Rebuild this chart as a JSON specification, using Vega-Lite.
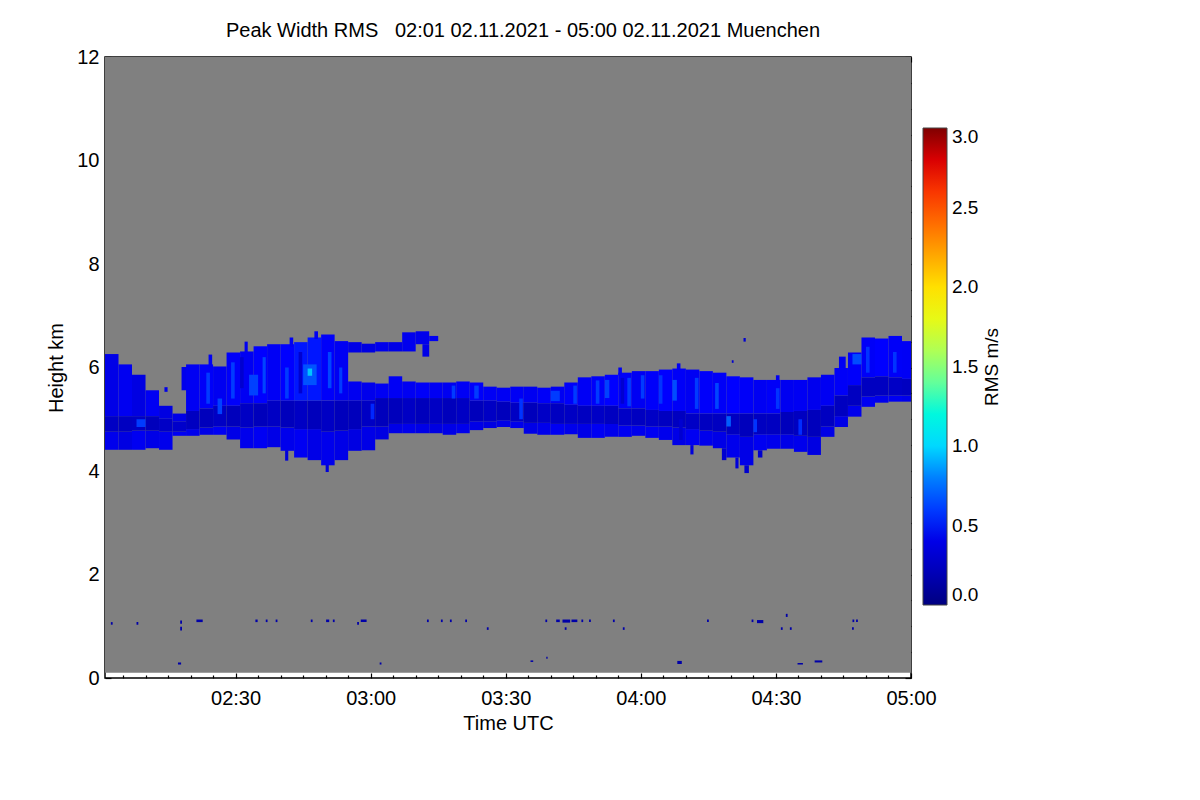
{
  "$schema": "https://vega.github.io/schema/vega-lite/v6.json",
  "width": 806,
  "height": 621,
  "autosize": "none",
  "padding": {"left": 105, "top": 57, "right": 289, "bottom": 122},
  "background": "#ffffff",
  "title": {
    "text": "Peak Width RMS\u00a0\u00a0 02:01 02.11.2021 - 05:00 02.11.2021 Muenchen",
    "fontSize": 20,
    "fontWeight": "normal",
    "color": "#000000",
    "anchor": "middle",
    "dx": 15,
    "offset": 6
  },
  "config": {
    "font": "Liberation Sans",
    "view": {"stroke": "#000000", "strokeWidth": 1.5},
    "axis": {
      "grid": false,
      "domain": false,
      "labelFontSize": 20,
      "titleFontSize": 20,
      "titleFontWeight": "normal",
      "labelColor": "#000000",
      "titleColor": "#000000",
      "tickColor": "#000000",
      "labelFlush": false,
      "labelOverlap": false
    }
  },
  "layer": [
    {
      "data": {"values": [{"t0": 1, "t1": 180, "h0": 0.1, "h1": 12}]},
      "mark": {"type": "rect", "color": "#808080"},
      "encoding": {
        "x": {
          "field": "t0", "type": "quantitative",
          "scale": {"domain": [1, 180], "nice": false, "zero": false},
          "axis": {
            "orient": "bottom",
            "title": "Time UTC",
            "titlePadding": 3,
            "values": [5,10,15,20,25,30,35,40,45,50,55,60,65,70,75,80,85,90,95,100,105,110,115,120,125,130,135,140,145,150,155,160,165,170,175,180],
            "labelExpr": "datum.value % 30 == 0 ? '0' + floor(2 + datum.value / 60) + ':' + (datum.value % 60 == 0 ? '00' : '30') : ''",
            "tickSize": {"condition": {"test": "datum.value % 30 == 0", "value": -5}, "value": -3},
            "tickWidth": 1.2,
            "labelPadding": 15
          }
        },
        "x2": {"field": "t1"},
        "y": {
          "field": "h0", "type": "quantitative",
          "scale": {"domain": [0, 12], "nice": false, "zero": false},
          "axis": {
            "orient": "left",
            "title": "Height km",
            "titlePadding": 10,
            "values": [0,0.5,1,1.5,2,2.5,3,3.5,4,4.5,5,5.5,6,6.5,7,7.5,8,8.5,9,9.5,10,10.5,11,11.5,12],
            "labelExpr": "datum.value % 2 == 0 ? datum.value : ''",
            "tickSize": {"condition": {"test": "datum.value % 2 == 0", "value": -6}, "value": -3},
            "tickWidth": 1.2,
            "labelPadding": 12
          }
        },
        "y2": {"field": "h1"}
      }
    },
    {
      "data": {"values": [
        {"t0":1,"t1":4,"h0":4.41,"h1":4.76,"v":0.42},{"t0":1,"t1":4,"h0":4.76,"h1":5.06,"v":0.25},{"t0":1,"t1":4,"h0":5.06,"h1":6.26,"v":0.4},
        {"t0":4,"t1":7,"h0":4.41,"h1":4.76,"v":0.38},{"t0":4,"t1":7,"h0":4.76,"h1":5.06,"v":0.24},{"t0":4,"t1":7,"h0":5.06,"h1":6.06,"v":0.44},
        {"t0":7,"t1":10,"h0":4.41,"h1":4.78,"v":0.44},{"t0":7,"t1":10,"h0":4.78,"h1":5.06,"v":0.25},{"t0":7,"t1":10,"h0":5.06,"h1":5.86,"v":0.38},
        {"t0":10,"t1":13,"h0":4.44,"h1":4.78,"v":0.4},{"t0":10,"t1":13,"h0":4.78,"h1":5.06,"v":0.22},{"t0":10,"t1":13,"h0":5.06,"h1":5.56,"v":0.45},
        {"t0":13,"t1":16,"h0":4.41,"h1":4.76,"v":0.42},{"t0":13,"t1":16,"h0":4.76,"h1":5.01,"v":0.26},{"t0":13,"t1":16,"h0":5.01,"h1":5.26,"v":0.38},
        {"t0":16,"t1":19,"h0":4.68,"h1":4.76,"v":0.45},{"t0":16,"t1":19,"h0":4.76,"h1":4.96,"v":0.28},{"t0":16,"t1":19,"h0":4.96,"h1":5.11,"v":0.4},
        {"t0":18,"t1":20,"h0":5.56,"h1":6.01,"v":0.42},
        {"t0":19,"t1":22,"h0":4.68,"h1":4.81,"v":0.42},{"t0":19,"t1":22,"h0":4.81,"h1":5.16,"v":0.24},{"t0":19,"t1":22,"h0":5.16,"h1":6.06,"v":0.45},
        {"t0":22,"t1":25,"h0":4.7,"h1":4.84,"v":0.4},{"t0":22,"t1":25,"h0":4.84,"h1":5.21,"v":0.22},{"t0":22,"t1":25,"h0":5.21,"h1":6.06,"v":0.47},
        {"t0":25,"t1":28,"h0":4.7,"h1":4.86,"v":0.45},{"t0":25,"t1":28,"h0":4.86,"h1":5.26,"v":0.25},{"t0":25,"t1":28,"h0":5.26,"h1":6.02,"v":0.44},
        {"t0":28,"t1":31,"h0":4.61,"h1":4.86,"v":0.4},{"t0":28,"t1":31,"h0":4.86,"h1":5.26,"v":0.22},{"t0":28,"t1":31,"h0":5.26,"h1":6.29,"v":0.48},
        {"t0":31,"t1":34,"h0":4.44,"h1":4.84,"v":0.42},{"t0":31,"t1":34,"h0":4.84,"h1":5.31,"v":0.25},{"t0":31,"t1":34,"h0":5.31,"h1":6.31,"v":0.45},
        {"t0":34,"t1":37,"h0":4.44,"h1":4.86,"v":0.45},{"t0":34,"t1":37,"h0":4.86,"h1":5.31,"v":0.22},{"t0":34,"t1":37,"h0":5.31,"h1":6.41,"v":0.5},
        {"t0":37,"t1":40,"h0":4.46,"h1":4.86,"v":0.4},{"t0":37,"t1":40,"h0":4.86,"h1":5.36,"v":0.25},{"t0":37,"t1":40,"h0":5.36,"h1":6.45,"v":0.46},
        {"t0":40,"t1":43,"h0":4.39,"h1":4.84,"v":0.42},{"t0":40,"t1":43,"h0":4.84,"h1":5.36,"v":0.22},{"t0":40,"t1":43,"h0":5.36,"h1":6.45,"v":0.5},
        {"t0":43,"t1":46,"h0":4.26,"h1":4.81,"v":0.45},{"t0":43,"t1":46,"h0":4.81,"h1":5.36,"v":0.25},{"t0":43,"t1":46,"h0":5.36,"h1":6.49,"v":0.52},
        {"t0":46,"t1":49,"h0":4.21,"h1":4.81,"v":0.4},{"t0":46,"t1":49,"h0":4.81,"h1":5.36,"v":0.22},{"t0":46,"t1":49,"h0":5.36,"h1":6.58,"v":0.52},
        {"t0":49,"t1":52,"h0":4.11,"h1":4.76,"v":0.42},{"t0":49,"t1":52,"h0":4.76,"h1":5.36,"v":0.25},{"t0":49,"t1":52,"h0":5.36,"h1":6.64,"v":0.48},
        {"t0":52,"t1":55,"h0":4.21,"h1":4.78,"v":0.4},{"t0":52,"t1":55,"h0":4.78,"h1":5.36,"v":0.22},{"t0":52,"t1":55,"h0":5.36,"h1":6.51,"v":0.45},
        {"t0":55,"t1":58,"h0":4.39,"h1":4.81,"v":0.38},{"t0":55,"t1":58,"h0":4.81,"h1":5.36,"v":0.22},{"t0":55,"t1":58,"h0":5.36,"h1":5.73,"v":0.44},{"t0":55,"t1":58,"h0":6.29,"h1":6.49,"v":0.4},
        {"t0":58,"t1":61,"h0":4.4,"h1":4.86,"v":0.4},{"t0":58,"t1":61,"h0":4.86,"h1":5.36,"v":0.25},{"t0":58,"t1":61,"h0":5.36,"h1":5.71,"v":0.42},{"t0":58,"t1":61,"h0":6.29,"h1":6.46,"v":0.38},
        {"t0":61,"t1":64,"h0":4.61,"h1":4.86,"v":0.38},{"t0":61,"t1":64,"h0":4.86,"h1":5.41,"v":0.22},{"t0":61,"t1":64,"h0":5.41,"h1":5.69,"v":0.45},{"t0":61,"t1":64,"h0":6.31,"h1":6.49,"v":0.42},
        {"t0":64,"t1":67,"h0":4.73,"h1":4.91,"v":0.4},{"t0":64,"t1":67,"h0":4.91,"h1":5.41,"v":0.22},{"t0":64,"t1":67,"h0":5.41,"h1":5.83,"v":0.46},{"t0":64,"t1":67,"h0":6.31,"h1":6.49,"v":0.4},
        {"t0":67,"t1":70,"h0":4.73,"h1":4.91,"v":0.42},{"t0":67,"t1":70,"h0":4.91,"h1":5.41,"v":0.25},{"t0":67,"t1":70,"h0":5.41,"h1":5.73,"v":0.45},{"t0":67,"t1":70,"h0":6.31,"h1":6.68,"v":0.43},
        {"t0":70,"t1":73,"h0":4.73,"h1":4.91,"v":0.4},{"t0":70,"t1":73,"h0":4.91,"h1":5.41,"v":0.22},{"t0":70,"t1":73,"h0":5.41,"h1":5.71,"v":0.47},{"t0":70,"t1":73,"h0":6.45,"h1":6.7,"v":0.42},{"t0":71.5,"t1":73,"h0":6.21,"h1":6.45,"v":0.4},
        {"t0":73,"t1":76,"h0":4.73,"h1":4.91,"v":0.38},{"t0":73,"t1":76,"h0":4.91,"h1":5.41,"v":0.25},{"t0":73,"t1":76,"h0":5.41,"h1":5.71,"v":0.45},{"t0":73,"t1":75,"h0":6.51,"h1":6.61,"v":0.45},
        {"t0":76,"t1":79,"h0":4.7,"h1":4.91,"v":0.4},{"t0":76,"t1":79,"h0":4.91,"h1":5.41,"v":0.22},{"t0":76,"t1":79,"h0":5.41,"h1":5.71,"v":0.44},
        {"t0":79,"t1":82,"h0":4.73,"h1":4.91,"v":0.42},{"t0":79,"t1":82,"h0":4.91,"h1":5.41,"v":0.25},{"t0":79,"t1":82,"h0":5.41,"h1":5.73,"v":0.46},
        {"t0":82,"t1":85,"h0":4.79,"h1":4.96,"v":0.4},{"t0":82,"t1":85,"h0":4.96,"h1":5.36,"v":0.22},{"t0":82,"t1":85,"h0":5.36,"h1":5.71,"v":0.48},
        {"t0":85,"t1":88,"h0":4.83,"h1":4.96,"v":0.38},{"t0":85,"t1":88,"h0":4.96,"h1":5.36,"v":0.25},{"t0":85,"t1":88,"h0":5.36,"h1":5.63,"v":0.46},
        {"t0":88,"t1":91,"h0":4.85,"h1":4.98,"v":0.4},{"t0":88,"t1":91,"h0":4.98,"h1":5.34,"v":0.22},{"t0":88,"t1":91,"h0":5.34,"h1":5.61,"v":0.45},
        {"t0":91,"t1":94,"h0":4.83,"h1":4.96,"v":0.42},{"t0":91,"t1":94,"h0":4.96,"h1":5.32,"v":0.25},{"t0":91,"t1":94,"h0":5.32,"h1":5.63,"v":0.46},
        {"t0":94,"t1":97,"h0":4.72,"h1":4.93,"v":0.4},{"t0":94,"t1":97,"h0":4.93,"h1":5.32,"v":0.22},{"t0":94,"t1":97,"h0":5.32,"h1":5.63,"v":0.44},
        {"t0":97,"t1":100,"h0":4.7,"h1":4.93,"v":0.42},{"t0":97,"t1":100,"h0":4.93,"h1":5.31,"v":0.26},{"t0":97,"t1":100,"h0":5.31,"h1":5.61,"v":0.47},
        {"t0":100,"t1":103,"h0":4.7,"h1":4.91,"v":0.45},{"t0":100,"t1":103,"h0":4.91,"h1":5.31,"v":0.24},{"t0":100,"t1":103,"h0":5.31,"h1":5.63,"v":0.45},
        {"t0":103,"t1":106,"h0":4.71,"h1":4.91,"v":0.42},{"t0":103,"t1":106,"h0":4.91,"h1":5.28,"v":0.25},{"t0":103,"t1":106,"h0":5.28,"h1":5.71,"v":0.48},
        {"t0":106,"t1":109,"h0":4.64,"h1":4.91,"v":0.4},{"t0":106,"t1":109,"h0":4.91,"h1":5.26,"v":0.24},{"t0":106,"t1":109,"h0":5.26,"h1":5.81,"v":0.46},
        {"t0":109,"t1":112,"h0":4.64,"h1":4.91,"v":0.45},{"t0":109,"t1":112,"h0":4.91,"h1":5.26,"v":0.26},{"t0":109,"t1":112,"h0":5.26,"h1":5.83,"v":0.48},
        {"t0":112,"t1":115,"h0":4.66,"h1":4.91,"v":0.42},{"t0":112,"t1":115,"h0":4.91,"h1":5.26,"v":0.24},{"t0":112,"t1":115,"h0":5.26,"h1":5.86,"v":0.5},
        {"t0":115,"t1":118,"h0":4.66,"h1":4.88,"v":0.44},{"t0":115,"t1":118,"h0":4.88,"h1":5.21,"v":0.26},{"t0":115,"t1":118,"h0":5.21,"h1":5.9,"v":0.47},
        {"t0":118,"t1":121,"h0":4.68,"h1":4.88,"v":0.42},{"t0":118,"t1":121,"h0":4.88,"h1":5.21,"v":0.24},{"t0":118,"t1":121,"h0":5.21,"h1":5.93,"v":0.45},
        {"t0":121,"t1":124,"h0":4.64,"h1":4.86,"v":0.45},{"t0":121,"t1":124,"h0":4.86,"h1":5.18,"v":0.26},{"t0":121,"t1":124,"h0":5.18,"h1":5.93,"v":0.48},
        {"t0":124,"t1":127,"h0":4.6,"h1":4.86,"v":0.42},{"t0":124,"t1":127,"h0":4.86,"h1":5.16,"v":0.24},{"t0":124,"t1":127,"h0":5.16,"h1":5.96,"v":0.5},
        {"t0":127,"t1":130,"h0":4.5,"h1":4.84,"v":0.4},{"t0":127,"t1":130,"h0":4.84,"h1":5.16,"v":0.24},{"t0":127,"t1":130,"h0":5.16,"h1":5.98,"v":0.47},
        {"t0":130,"t1":133,"h0":4.5,"h1":4.81,"v":0.45},{"t0":130,"t1":133,"h0":4.81,"h1":5.11,"v":0.26},{"t0":130,"t1":133,"h0":5.11,"h1":5.96,"v":0.45},
        {"t0":133,"t1":136,"h0":4.49,"h1":4.78,"v":0.42},{"t0":133,"t1":136,"h0":4.78,"h1":5.11,"v":0.24},{"t0":133,"t1":136,"h0":5.11,"h1":5.93,"v":0.48},
        {"t0":136,"t1":139,"h0":4.44,"h1":4.76,"v":0.4},{"t0":136,"t1":139,"h0":4.76,"h1":5.11,"v":0.24},{"t0":136,"t1":139,"h0":5.11,"h1":5.9,"v":0.47},{"t0":138,"t1":139,"h0":4.21,"h1":4.44,"v":0.3},
        {"t0":139,"t1":142,"h0":4.26,"h1":4.71,"v":0.42},{"t0":139,"t1":142,"h0":4.71,"h1":5.11,"v":0.24},{"t0":139,"t1":142,"h0":5.11,"h1":5.83,"v":0.5},
        {"t0":142,"t1":145,"h0":4.11,"h1":4.66,"v":0.4},{"t0":142,"t1":145,"h0":4.66,"h1":5.11,"v":0.22},{"t0":142,"t1":145,"h0":5.11,"h1":5.81,"v":0.47},{"t0":143,"t1":144,"h0":3.96,"h1":4.11,"v":0.3},
        {"t0":145,"t1":148,"h0":4.4,"h1":4.71,"v":0.44},{"t0":145,"t1":148,"h0":4.71,"h1":5.11,"v":0.24},{"t0":145,"t1":148,"h0":5.11,"h1":5.76,"v":0.45},{"t0":146,"t1":147,"h0":4.26,"h1":4.4,"v":0.3},
        {"t0":148,"t1":151,"h0":4.43,"h1":4.71,"v":0.42},{"t0":148,"t1":151,"h0":4.71,"h1":5.11,"v":0.24},{"t0":148,"t1":151,"h0":5.11,"h1":5.76,"v":0.47},
        {"t0":151,"t1":154,"h0":4.43,"h1":4.71,"v":0.4},{"t0":151,"t1":154,"h0":4.71,"h1":5.14,"v":0.22},{"t0":151,"t1":154,"h0":5.14,"h1":5.76,"v":0.44},
        {"t0":154,"t1":157,"h0":4.37,"h1":4.68,"v":0.42},{"t0":154,"t1":157,"h0":4.68,"h1":5.16,"v":0.24},{"t0":154,"t1":157,"h0":5.16,"h1":5.76,"v":0.45},
        {"t0":157,"t1":160,"h0":4.31,"h1":4.66,"v":0.38},{"t0":157,"t1":160,"h0":4.66,"h1":5.18,"v":0.22},{"t0":157,"t1":160,"h0":5.18,"h1":5.81,"v":0.43},
        {"t0":160,"t1":163,"h0":4.66,"h1":4.86,"v":0.4},{"t0":160,"t1":163,"h0":4.86,"h1":5.26,"v":0.24},{"t0":160,"t1":163,"h0":5.26,"h1":5.86,"v":0.45},
        {"t0":163,"t1":166,"h0":4.85,"h1":5.06,"v":0.4},{"t0":163,"t1":166,"h0":5.06,"h1":5.46,"v":0.24},{"t0":163,"t1":166,"h0":5.46,"h1":5.99,"v":0.47},{"t0":164,"t1":165.5,"h0":5.99,"h1":6.21,"v":0.45},
        {"t0":166,"t1":169,"h0":5.05,"h1":5.26,"v":0.42},{"t0":166,"t1":169,"h0":5.26,"h1":5.66,"v":0.24},{"t0":166,"t1":169,"h0":5.66,"h1":6.29,"v":0.48},
        {"t0":169,"t1":172,"h0":5.24,"h1":5.44,"v":0.45},{"t0":169,"t1":172,"h0":5.44,"h1":5.81,"v":0.24},{"t0":169,"t1":172,"h0":5.81,"h1":6.58,"v":0.47},
        {"t0":172,"t1":175,"h0":5.32,"h1":5.46,"v":0.42},{"t0":172,"t1":175,"h0":5.46,"h1":5.83,"v":0.24},{"t0":172,"t1":175,"h0":5.83,"h1":6.56,"v":0.5},
        {"t0":175,"t1":178,"h0":5.34,"h1":5.46,"v":0.45},{"t0":175,"t1":178,"h0":5.46,"h1":5.81,"v":0.26},{"t0":175,"t1":178,"h0":5.81,"h1":6.61,"v":0.47},
        {"t0":178,"t1":180,"h0":5.34,"h1":5.46,"v":0.42},{"t0":178,"t1":180,"h0":5.46,"h1":5.78,"v":0.24},{"t0":178,"t1":180,"h0":5.78,"h1":6.51,"v":0.46},
        {"t0":8,"t1":10,"h0":4.85,"h1":5.0,"v":0.6},
        {"t0":26,"t1":27,"h0":5.1,"h1":5.4,"v":0.62},
        {"t0":33,"t1":35,"h0":5.46,"h1":5.86,"v":0.62},
        {"t0":45,"t1":48,"h0":5.66,"h1":6.06,"v":0.68},
        {"t0":46,"t1":47,"h0":5.84,"h1":5.98,"v":0.95},
        {"t0":100,"t1":102,"h0":5.35,"h1":5.55,"v":0.6},
        {"t0":112,"t1":113,"h0":5.41,"h1":5.76,"v":0.62},
        {"t0":127,"t1":128,"h0":5.36,"h1":5.76,"v":0.66},
        {"t0":139,"t1":140,"h0":4.86,"h1":5.06,"v":0.72},
        {"t0":167,"t1":169,"h0":6.06,"h1":6.26,"v":0.66},
        {"t0":23.5,"t1":24.3,"h0":5.3,"h1":5.9,"v":0.6},
        {"t0":29,"t1":29.8,"h0":5.4,"h1":6.1,"v":0.6},
        {"t0":36,"t1":36.7,"h0":5.5,"h1":6.2,"v":0.63},
        {"t0":41,"t1":41.8,"h0":5.4,"h1":6.0,"v":0.6},
        {"t0":50.5,"t1":51.3,"h0":5.6,"h1":6.3,"v":0.63},
        {"t0":53,"t1":53.7,"h0":5.5,"h1":6.0,"v":0.6},
        {"t0":60,"t1":60.8,"h0":5.0,"h1":5.3,"v":0.55},
        {"t0":78,"t1":78.8,"h0":5.4,"h1":5.65,"v":0.6},
        {"t0":83,"t1":84,"h0":5.4,"h1":5.65,"v":0.6},
        {"t0":93,"t1":93.8,"h0":5.0,"h1":5.4,"v":0.58},
        {"t0":105,"t1":105.8,"h0":5.3,"h1":5.65,"v":0.6},
        {"t0":110,"t1":110.8,"h0":5.3,"h1":5.75,"v":0.6},
        {"t0":117,"t1":117.8,"h0":5.25,"h1":5.8,"v":0.6},
        {"t0":120,"t1":120.8,"h0":5.4,"h1":5.85,"v":0.6},
        {"t0":124,"t1":124.8,"h0":5.3,"h1":5.85,"v":0.58},
        {"t0":132,"t1":132.8,"h0":5.2,"h1":5.8,"v":0.6},
        {"t0":136.5,"t1":137.3,"h0":5.2,"h1":5.7,"v":0.63},
        {"t0":145,"t1":145.8,"h0":4.75,"h1":5.0,"v":0.58},
        {"t0":150,"t1":150.8,"h0":5.2,"h1":5.6,"v":0.58},
        {"t0":155,"t1":155.8,"h0":4.7,"h1":5.0,"v":0.56},
        {"t0":170,"t1":170.8,"h0":5.9,"h1":6.4,"v":0.58},
        {"t0":176,"t1":176.8,"h0":5.9,"h1":6.3,"v":0.58},
        {"t0":31,"t1":31.8,"h0":5.6,"h1":6.2,"v":0.3},
        {"t0":44,"t1":44.8,"h0":5.5,"h1":6.3,"v":0.3},
        {"t0":115.5,"t1":116.3,"h0":5.3,"h1":5.8,"v":0.3},
        {"t0":128.5,"t1":129.3,"h0":4.6,"h1":5.0,"v":0.3},
        {"t0":24,"t1":24.8,"h0":6.0,"h1":6.25,"v":0.45},
        {"t0":32,"t1":32.7,"h0":6.3,"h1":6.5,"v":0.45},
        {"t0":42,"t1":42.8,"h0":6.4,"h1":6.58,"v":0.45},
        {"t0":47.5,"t1":48.3,"h0":6.55,"h1":6.7,"v":0.45},
        {"t0":115,"t1":115.8,"h0":5.85,"h1":6.0,"v":0.45},
        {"t0":128,"t1":128.8,"h0":5.95,"h1":6.08,"v":0.45},
        {"t0":150,"t1":150.8,"h0":5.75,"h1":5.85,"v":0.45},
        {"t0":41,"t1":41.7,"h0":4.2,"h1":4.4,"v":0.35},
        {"t0":50,"t1":50.7,"h0":3.98,"h1":4.12,"v":0.35},
        {"t0":131,"t1":131.7,"h0":4.32,"h1":4.5,"v":0.35},
        {"t0":141,"t1":141.7,"h0":4.05,"h1":4.26,"v":0.35},
        {"t0":14.2,"t1":14.9,"h0":5.53,"h1":5.62,"v":0.4},
        {"t0":140.2,"t1":140.6,"h0":6.09,"h1":6.14,"v":0.3},
        {"t0":142.8,"t1":143.3,"h0":6.5,"h1":6.57,"v":0.3},
        {"t0":2.3,"t1":2.7,"h0":1.03,"h1":1.08,"v":0.15},
        {"t0":8,"t1":8.4,"h0":1.03,"h1":1.08,"v":0.15},
        {"t0":17.7,"t1":18.1,"h0":1.05,"h1":1.11,"v":0.15},
        {"t0":17.7,"t1":18.1,"h0":0.92,"h1":0.99,"v":0.15},
        {"t0":21.3,"t1":22.7,"h0":1.08,"h1":1.13,"v":0.15},
        {"t0":34.4,"t1":34.9,"h0":1.08,"h1":1.13,"v":0.15},
        {"t0":36.7,"t1":37.1,"h0":1.08,"h1":1.13,"v":0.15},
        {"t0":38.9,"t1":39.3,"h0":1.08,"h1":1.13,"v":0.15},
        {"t0":46.7,"t1":47.1,"h0":1.08,"h1":1.13,"v":0.15},
        {"t0":50.1,"t1":50.8,"h0":1.08,"h1":1.13,"v":0.15},
        {"t0":51.6,"t1":52,"h0":1.08,"h1":1.13,"v":0.15},
        {"t0":57,"t1":57.4,"h0":1.03,"h1":1.08,"v":0.15},
        {"t0":57.8,"t1":59.1,"h0":1.08,"h1":1.13,"v":0.15},
        {"t0":72.5,"t1":72.9,"h0":1.08,"h1":1.13,"v":0.15},
        {"t0":75.6,"t1":76,"h0":1.08,"h1":1.13,"v":0.15},
        {"t0":77.6,"t1":78,"h0":1.08,"h1":1.13,"v":0.15},
        {"t0":81,"t1":81.4,"h0":1.08,"h1":1.13,"v":0.15},
        {"t0":85.8,"t1":86.2,"h0":0.93,"h1":0.98,"v":0.15},
        {"t0":98.8,"t1":99.2,"h0":1.08,"h1":1.13,"v":0.15},
        {"t0":101.2,"t1":102,"h0":1.08,"h1":1.13,"v":0.15},
        {"t0":102.6,"t1":104.3,"h0":1.07,"h1":1.13,"v":0.15},
        {"t0":103.1,"t1":103.5,"h0":0.93,"h1":0.98,"v":0.15},
        {"t0":104.6,"t1":105.9,"h0":1.08,"h1":1.13,"v":0.15},
        {"t0":106.8,"t1":107.2,"h0":1.08,"h1":1.13,"v":0.15},
        {"t0":108.5,"t1":108.9,"h0":1.08,"h1":1.13,"v":0.15},
        {"t0":113.8,"t1":114.2,"h0":1.08,"h1":1.13,"v":0.15},
        {"t0":116,"t1":116.4,"h0":0.93,"h1":0.98,"v":0.15},
        {"t0":134.7,"t1":135.1,"h0":1.08,"h1":1.13,"v":0.15},
        {"t0":144.6,"t1":145,"h0":1.08,"h1":1.13,"v":0.15},
        {"t0":145.8,"t1":147.2,"h0":1.06,"h1":1.12,"v":0.15},
        {"t0":151.1,"t1":151.5,"h0":0.93,"h1":0.98,"v":0.15},
        {"t0":152.2,"t1":152.6,"h0":1.18,"h1":1.24,"v":0.15},
        {"t0":153.1,"t1":153.5,"h0":0.93,"h1":0.98,"v":0.15},
        {"t0":166.9,"t1":167.3,"h0":0.93,"h1":0.98,"v":0.15},
        {"t0":167,"t1":167.4,"h0":1.08,"h1":1.13,"v":0.15},
        {"t0":167.8,"t1":168.2,"h0":1.08,"h1":1.13,"v":0.15},
        {"t0":17.2,"t1":17.9,"h0":0.26,"h1":0.3,"v":0.15},
        {"t0":62,"t1":62.4,"h0":0.26,"h1":0.3,"v":0.15},
        {"t0":95.5,"t1":96.1,"h0":0.31,"h1":0.34,"v":0.15},
        {"t0":99,"t1":99.3,"h0":0.37,"h1":0.41,"v":0.15},
        {"t0":128.1,"t1":129.1,"h0":0.27,"h1":0.33,"v":0.15},
        {"t0":154.8,"t1":156,"h0":0.26,"h1":0.29,"v":0.15},
        {"t0":158.6,"t1":160.3,"h0":0.3,"h1":0.34,"v":0.15}
      ]},
      "mark": {"type": "rect"},
      "encoding": {
        "x": {
          "field": "t0", "type": "quantitative",
          "scale": {"domain": [1, 180], "nice": false, "zero": false},
          "axis": {
            "orient": "top",
            "title": null,
            "labels": false,
            "values": [5,10,15,20,25,30,35,40,45,50,55,60,65,70,75,80,85,90,95,100,105,110,115,120,125,130,135,140,145,150,155,160,165,170,175,180],
            "tickSize": {"condition": {"test": "datum.value % 30 == 0", "value": -5}, "value": -3},
            "tickWidth": 1.2
          }
        },
        "x2": {"field": "t1"},
        "y": {
          "field": "h0", "type": "quantitative",
          "scale": {"domain": [0, 12], "nice": false, "zero": false},
          "axis": {
            "orient": "right",
            "title": null,
            "labels": false,
            "values": [0,0.5,1,1.5,2,2.5,3,3.5,4,4.5,5,5.5,6,6.5,7,7.5,8,8.5,9,9.5,10,10.5,11,11.5,12],
            "tickSize": {"condition": {"test": "datum.value % 2 == 0", "value": -6}, "value": -3},
            "tickWidth": 1.2
          }
        },
        "y2": {"field": "h1"},
        "color": {
          "field": "v", "type": "quantitative",
          "scale": {
            "domain": [0, 0.25, 0.5, 0.75, 1, 1.25, 1.5, 1.75, 2, 2.25, 2.5, 2.75, 3],
            "range": ["#000080", "#0000c4", "#0000ff", "#0064ff", "#00d8ff", "#28ffd0", "#90ff70", "#e0ff20", "#ffe000", "#ff9800", "#ff4800", "#f00000", "#800000"],
            "clamp": true
          },
          "legend": {
            "orient": "none",
            "legendX": 818,
            "legendY": 71,
            "padding": 0,
            "direction": "vertical",
            "gradientLength": 477,
            "gradientThickness": 24,
            "gradientStrokeColor": "#444444",
            "gradientStrokeWidth": 1,
            "values": [0, 0.5, 1, 1.5, 2, 2.5, 3],
            "format": ".1f",
            "labelFontSize": 19,
            "labelColor": "#000000",
            "labelOffset": 5,
            "title": "RMS m/s",
            "titleOrient": "right",
            "titleFontSize": 19,
            "titleFontWeight": "normal",
            "titleColor": "#000000",
            "titleAnchor": "middle",
            "titleAlign": "center",
            "titleBaseline": "top",
            "encode": {"title": {"update": {"angle": {"value": -90}}}}
          }
        }
      }
    }
  ],
  "resolve": {"axis": {"x": "independent", "y": "independent"}}
}
